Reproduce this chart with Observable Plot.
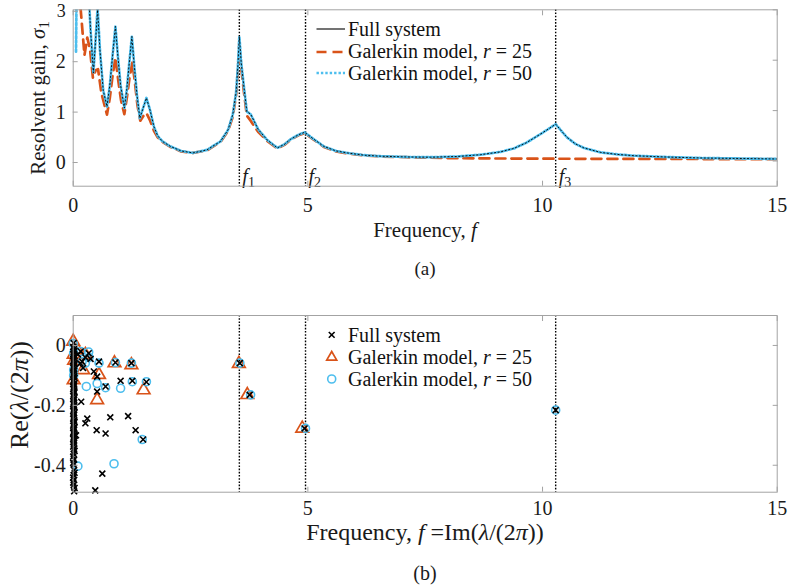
<!DOCTYPE html>
<html>
<head>
<meta charset="utf-8">
<script src="https://cdn.jsdelivr.net/npm/d3@7"></script>
<script src="https://cdn.jsdelivr.net/npm/@observablehq/plot@0.6"></script>
<style>
  body { margin: 0; background: #fff; }
  #wrap { position: relative; width: 790px; height: 586px; overflow: hidden; font-family: "Liberation Serif", serif; color: #1a1a1a; }
  #wrap svg.plot { position: absolute; left: 0; }
  .abs { position: absolute; white-space: nowrap; line-height: 1; }
  .row { position: absolute; height: 22px; display: flex; align-items: center; font-size: 20px; white-space: nowrap; color: #111; }
  .sub { font-size: 0.7em; position: relative; top: 0.28em; }
</style>
</head>
<body>
<div id="wrap"></div>
<script>
// ---------- Panel (a): resolvent gain ----------
const xTicks = [0, 5, 10, 15];
const yTicksA = [0, 1, 2, 3];
const markFreqs = [3.54, 4.95, 10.28];
const markNames = ["1", "2", "3"];

const fullF = [0.00,0.05,0.12,0.20,0.26,0.32,0.37,0.43,0.47,0.52,0.57,0.64,0.72,0.78,0.84,0.90,0.95,1.01,1.09,1.14,1.19,1.25,1.30,1.36,1.42,1.49,1.56,1.64,1.72,1.80,1.90,2.07,2.30,2.55,2.85,3.14,3.30,3.40,3.47,3.51,3.54,3.58,3.64,3.70,3.78,3.85,3.94,4.13,4.35,4.50,4.63,4.80,4.93,5.10,5.34,5.60,5.84,6.20,6.55,7.10,7.61,8.20,8.68,9.10,9.39,9.65,9.81,10.00,10.15,10.28,10.40,10.52,10.70,10.88,11.24,11.60,11.95,12.60,13.37,14.20,15.00];
const fullS = [3.6,3.9,4.2,3.6,3.1,3.5,2.6,1.75,2.3,3.0,2.2,1.4,1.08,1.5,2.1,2.67,2.1,1.5,1.05,1.4,1.9,2.47,1.9,1.3,0.85,1.05,1.25,1.0,0.68,0.5,0.39,0.29,0.2,0.16,0.22,0.39,0.62,0.92,1.35,1.9,2.47,1.95,1.45,0.98,0.93,0.8,0.63,0.42,0.26,0.33,0.43,0.52,0.57,0.45,0.29,0.2,0.16,0.115,0.095,0.08,0.075,0.09,0.125,0.18,0.25,0.36,0.45,0.56,0.65,0.73,0.6,0.47,0.34,0.26,0.17,0.13,0.105,0.08,0.06,0.05,0.04];

const r25F = [0.00,0.08,0.16,0.24,0.30,0.36,0.42,0.48,0.53,0.60,0.72,0.78,0.84,0.90,0.96,1.02,1.09,1.15,1.20,1.26,1.31,1.37,1.43,1.50,1.56,1.64,1.72,1.80,1.90,2.07,2.30,2.55,2.85,3.14,3.30,3.40,3.47,3.51,3.54,3.58,3.64,3.70,3.78,3.85,3.94,4.13,4.35,4.50,4.63,4.80,4.93,5.10,5.34,5.60,5.84,6.20,6.55,7.10,7.61,8.20,9.00,10.28,11.50,13.00,15.00];
const r25S = [3.5,3.9,3.0,2.1,2.45,2.2,1.65,1.8,1.82,1.35,0.92,1.25,1.7,2.05,1.6,1.2,0.93,1.3,1.65,1.95,1.6,1.1,0.8,0.9,0.95,0.8,0.6,0.47,0.38,0.28,0.19,0.16,0.21,0.38,0.6,0.88,1.3,1.8,2.35,1.85,1.35,0.9,0.8,0.7,0.58,0.4,0.25,0.32,0.42,0.51,0.55,0.44,0.28,0.19,0.15,0.11,0.09,0.075,0.065,0.055,0.05,0.045,0.042,0.04,0.035];

const r50F = [0.06,0.075,0.12,0.20,0.26,0.32,0.37,0.43,0.47,0.52,0.57,0.64,0.72,0.78,0.84,0.90,0.95,1.01,1.09,1.14,1.19,1.25,1.30,1.36,1.42,1.49,1.56,1.64,1.72,1.80,1.90,2.07,2.30,2.55,2.85,3.14,3.30,3.40,3.47,3.51,3.54,3.58,3.64,3.70,3.78,3.85,3.94,4.13,4.35,4.50,4.63,4.80,4.93,5.10,5.34,5.60,5.84,6.20,6.55,7.10,7.61,8.20,8.68,9.10,9.39,9.65,9.81,10.00,10.15,10.28,10.40,10.52,10.70,10.88,11.24,11.60,11.95,12.60,13.37,14.20,15.00];
const r50S = [2.17,3.6,4.2,3.6,3.1,3.5,2.6,1.75,2.3,3.05,2.2,1.4,1.08,1.5,2.1,2.67,2.1,1.5,1.05,1.4,1.9,2.47,1.9,1.3,0.85,1.05,1.25,1.0,0.68,0.5,0.39,0.29,0.2,0.16,0.22,0.39,0.62,0.92,1.35,1.9,2.47,1.95,1.45,0.98,0.93,0.8,0.63,0.42,0.26,0.33,0.43,0.52,0.57,0.45,0.29,0.2,0.16,0.115,0.095,0.08,0.075,0.09,0.125,0.18,0.25,0.36,0.45,0.56,0.65,0.73,0.6,0.47,0.34,0.26,0.17,0.13,0.105,0.08,0.06,0.05,0.04];

// ---------- Panel (b): eigenvalues ----------
const yTicksB = [-0.4, -0.2, 0];
const fullEigF = [0.01,0.02,0.01,0.03,0.01,0.02,0.01,0.02,0.01,0.02,0.01,0.02,0.01,0.02,0.01,0.02,0.01,0.02,0.01,0.02,0.01,0.02,0.01,0.02,0.01,0.03,0.01,0.02,0.01,0.02,0.01,0.02,0.01,0.02,0.01,0.02,0.01,0.02,
  0.00,0.03,0.00,0.02,0.00,0.03,0.00,0.02,0.00,0.03,0.00,0.02,0.00,0.03,0.00,0.02,0.00,0.03,0.00,0.02,0.00,0.03,0.00,0.02,0.00,0.03,0.00,0.02,0.00,0.03,0.00,0.00,0.03,0.00,0.00,0.03,
  0.16,0.33,0.19,0.55,0.90,1.24,0.44,0.51,1.01,1.26,1.56,0.69,0.51,0.17,0.30,0.26,0.79,1.17,0.50,0.69,1.33,1.49,0.06,0.62,0.47,0.10,0.26,0.37,0.15,0.21,
  3.55,3.76,4.93,10.28];
const fullEigRe = [0.008,-0.012,-0.022,-0.035,-0.047,-0.058,-0.068,-0.079,-0.091,-0.103,-0.116,-0.128,-0.139,-0.152,-0.163,-0.176,-0.189,-0.201,-0.214,-0.226,-0.238,-0.251,-0.262,-0.276,-0.288,-0.297,-0.306,-0.318,-0.331,-0.345,-0.362,-0.381,-0.398,-0.416,-0.433,-0.449,-0.466,-0.487,
  -0.005,-0.017,-0.029,-0.041,-0.052,-0.063,-0.074,-0.085,-0.097,-0.109,-0.121,-0.133,-0.145,-0.157,-0.169,-0.182,-0.195,-0.207,-0.219,-0.232,-0.244,-0.256,-0.268,-0.282,-0.292,-0.302,-0.312,-0.325,-0.338,-0.352,-0.371,-0.392,-0.425,-0.441,-0.458,-0.476,
  -0.02,-0.026,-0.054,-0.054,-0.057,-0.059,-0.087,-0.104,-0.118,-0.118,-0.122,-0.137,-0.154,-0.188,-0.244,-0.26,-0.24,-0.236,-0.283,-0.294,-0.283,-0.314,-0.3,-0.428,-0.484,-0.03,-0.04,-0.045,-0.06,-0.075,
  -0.059,-0.165,-0.277,-0.216];
const r25EigF = [0.00,0.01,0.085,0.26,0.01,0.21,0.55,0.88,1.24,0.51,1.50,0.02,3.53,3.71,4.88];
const r25EigRe = [0.013,-0.03,-0.014,-0.031,-0.115,-0.082,-0.098,-0.059,-0.065,-0.182,-0.149,-0.05,-0.061,-0.165,-0.277];
const r50EigF = [0.00,0.01,0.16,0.33,0.01,0.01,0.26,0.19,0.55,0.90,1.24,0.28,0.51,0.69,1.01,1.26,1.56,1.47,0.10,0.87,0.34,3.55,3.78,4.95,10.28];
const r50EigRe = [0.006,-0.026,-0.02,-0.022,-0.082,-0.1,-0.059,-0.054,-0.059,-0.057,-0.059,-0.137,-0.127,-0.141,-0.143,-0.121,-0.121,-0.314,-0.403,-0.395,-0.04,-0.059,-0.165,-0.277,-0.216];

// ---------- colours ----------
const cFull = "#000000", c25 = "#D95319", c50 = "#4DBEEE", cBox = "#a3a3a3";

const zip = (xs, ys) => xs.map((x, i) => ({f: x, v: ys[i]}));
const fullLine = zip(fullF, fullS), r25Line = zip(r25F, r25S), r50Line = zip(r50F, r50S);
const fullEig = zip(fullEigF, fullEigRe), r25Eig = zip(r25EigF, r25EigRe), r50Eig = zip(r50EigF, r50EigRe);
const fLabels = markFreqs.map((f, i) => ({f, name: "f" + markNames[i]}));

const wrap = document.getElementById("wrap");
const baseStyle = {fontFamily: "'Liberation Serif', serif", fontSize: "20px", color: "#1a1a1a", background: "transparent", overflow: "visible"};

function boxAxes(xt, yt, yFmt, xPad, yDy) {
  return [
    Plot.frame({stroke: cBox}),
    Plot.axisX({ticks: xt, tickSize: -5, tickPadding: xPad, stroke: cBox, label: null}),
    Plot.axisX({anchor: "top", ticks: xt, tickSize: -5, stroke: cBox, label: null, tickFormat: () => ""}),
    Plot.axisY({ticks: yt, tickSize: -5, tickPadding: 12.5, stroke: cBox, label: null, tickFormat: yFmt, dy: yDy}),
    Plot.axisY({anchor: "right", ticks: yt, tickSize: -5, stroke: cBox, label: null, tickFormat: () => ""})
  ];
}

const chartA = Plot.plot({
  width: 790, height: 215,
  marginLeft: 72.7, marginRight: 13.3, marginTop: 9.3, marginBottom: 29.3,
  style: baseStyle,
  x: {domain: [0, 15], label: null},
  y: {domain: [-0.5, 3], label: null},
  marks: [
    Plot.ruleX(markFreqs, {stroke: "black", strokeWidth: 1.4, strokeDasharray: "1.6,1.6"}),
    Plot.line(fullLine, {x: "f", y: "v", stroke: cFull, strokeWidth: 1.1, clip: true}),
    Plot.line(r25Line, {x: "f", y: "v", stroke: c25, strokeWidth: 2.7, strokeDasharray: "10,6", clip: true}),
    Plot.line(r50Line, {x: "f", y: "v", stroke: c50, strokeWidth: 2.7, strokeDasharray: "2.4,2", clip: true}),
    Plot.line(fullLine, {x: "f", y: "v", stroke: cFull, strokeWidth: 0.9, strokeDasharray: "1.2,2.4", clip: true}),
    Plot.text(fLabels, {x: "f", text: "name", frameAnchor: "bottom", dx: 3, dy: -3, textAnchor: "start", lineAnchor: "bottom", fontStyle: "italic", fontSize: 20}),
    ...boxAxes(xTicks, yTicksA, d => String(d), 17, 1.5)
  ]
});

const chartB = Plot.plot({
  width: 790, height: 215,
  marginLeft: 72.7, marginRight: 13.3, marginTop: 15, marginBottom: 23.3,
  style: baseStyle,
  x: {domain: [0, 15], label: null},
  y: {domain: [-0.49, 0.1], label: null},
  marks: [
    Plot.ruleX(markFreqs, {stroke: "black", strokeWidth: 1.4, strokeDasharray: "1.6,1.6"}),
    Plot.dot(r25Eig, {x: "f", y: "v", symbol: "triangle", r: 4.7, stroke: c25, strokeWidth: 1.7, fill: "none"}),
    Plot.dot(r50Eig, {x: "f", y: "v", symbol: "circle", r: 4, stroke: c50, strokeWidth: 1.6, fill: "none"}),
    Plot.dot(fullEig, {x: "f", y: "v", symbol: "times", r: 2.8, stroke: cFull, strokeWidth: 1.6}),
    ...boxAxes(xTicks, yTicksB, d => (d === 0 ? "0" : String(d)), 13.5, 0)
  ]
});

// subscript f labels (f_1, f_2, f_3)
d3.select(chartA).selectAll('g[aria-label="text"] text').each(function () {
  const t = d3.select(this);
  const s = t.text();
  t.text(null);
  t.append("tspan").attr("font-style", "italic").text(s[0]);
  t.append("tspan").attr("font-style", "normal").attr("font-size", "14px").attr("dy", "4").text(s.slice(1));
});
// keep the top "3" label inside the page
d3.select(chartA).selectAll('g[aria-label="y-axis tick label"] text').filter(function () { return d3.select(this).text() === "3"; }).attr("font-size", "18px");

chartA.classList.add("plot"); chartA.style.top = "0px";
chartB.classList.add("plot"); chartB.style.top = "300px";
wrap.appendChild(chartA);
wrap.appendChild(chartB);

// ---------- text overlays ----------
function label(html, cx, cy, size, rotate) {
  const d = document.createElement("div");
  d.className = "abs";
  d.style.left = cx + "px";
  d.style.top = cy + "px";
  d.style.fontSize = size + "px";
  d.style.transform = "translate(-50%,-50%)" + (rotate ? ` rotate(${rotate}deg)` : "");
  d.innerHTML = html;
  wrap.appendChild(d);
}
label('Resolvent gain, <i>σ</i><span class="sub">1</span>', 38, 97.5, 21, -90);
label('Frequency, <i>f</i>', 425, 230, 21);
label('(a)', 425, 268, 19);
label('Re(<i>λ</i>/(2<i>π</i>))', 20, 395, 26, -90);
label('Frequency, <i>f</i> =Im(<i>λ</i>/(2<i>π</i>))', 425, 532, 24);
label('(b)', 425, 573, 20);

// legend (a)
const legA = [
  {name: 'Full system', stroke: cFull, w: 1.1, dash: null},
  {name: 'Galerkin model, <i>r</i> = 25', stroke: c25, w: 2.7, dash: "10,6"},
  {name: 'Galerkin model, <i>r</i> = 50', stroke: c50, w: 2.7, dash: "2.4,2"}
];
const legACenters = [29.3, 51.7, 73.3];
legA.forEach((e, i) => {
  const r = document.createElement("div");
  r.className = "row";
  r.style.left = "316px";
  r.style.top = (legACenters[i] - 11) + "px";
  r.innerHTML = `<svg width="30" height="22" style="margin-right:2px"><line x1="0.5" x2="29" y1="11" y2="11" stroke="${e.stroke}" stroke-width="${e.w}" ${e.dash ? `stroke-dasharray="${e.dash}"` : ""}/></svg><span>${e.name}</span>`;
  wrap.appendChild(r);
});

// legend (b)
const legB = [
  {name: 'Full system', sym: `<path d="M8.8,8 L14.6,13.8 M14.6,8 L8.8,13.8" stroke="${cFull}" stroke-width="1.6"/>`},
  {name: 'Galerkin model, <i>r</i> = 25', sym: `<path d="M11.7,5.5 L16.7,14.2 L6.7,14.2 Z" fill="none" stroke="${c25}" stroke-width="1.7"/>`},
  {name: 'Galerkin model, <i>r</i> = 50', sym: `<circle cx="11.7" cy="11" r="4" fill="none" stroke="${c50}" stroke-width="1.6"/>`}
];
const legBCenters = [335, 357.3, 379.3];
legB.forEach((e, i) => {
  const r = document.createElement("div");
  r.className = "row";
  r.style.left = "320px";
  r.style.top = (legBCenters[i] - 11) + "px";
  r.innerHTML = `<svg width="28" height="22">${e.sym}</svg><span>${e.name}</span>`;
  wrap.appendChild(r);
});
</script>
</body>
</html>
